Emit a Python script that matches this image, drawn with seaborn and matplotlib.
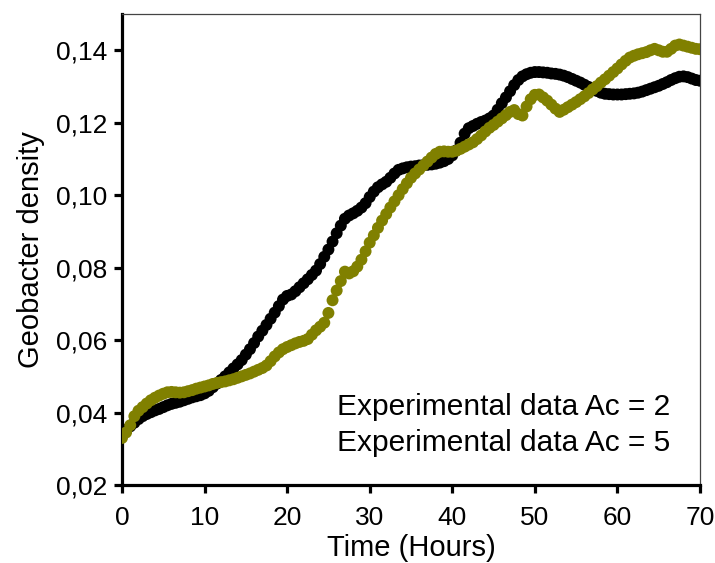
import numpy as np
import pandas as pd
import matplotlib
matplotlib.use("Agg")
import matplotlib.pyplot as plt
import seaborn as sns
from matplotlib.lines import Line2D
from matplotlib.ticker import FuncFormatter

# ---- data ----
time_hours = np.arange(0, 70.5, 0.5)

density_ac2 = [
    0.0340, 0.0353, 0.0362, 0.0372, 0.0382, 0.0390, 0.0396, 0.0401, 0.0406, 0.0410,
    0.0415, 0.0420, 0.0424, 0.0427, 0.0430, 0.0434, 0.0438, 0.0442, 0.0445, 0.0448,
    0.0453, 0.0460, 0.0470, 0.0480, 0.0490, 0.0500, 0.0511, 0.0522, 0.0533, 0.0545,
    0.0560, 0.0575, 0.0592, 0.0610, 0.0626, 0.0642, 0.0659, 0.0676, 0.0694, 0.0712,
    0.0722, 0.0726, 0.0735, 0.0746, 0.0757, 0.0768, 0.0780, 0.0792, 0.0810, 0.0830,
    0.0850, 0.0872, 0.0895, 0.0916, 0.0935, 0.0944, 0.0950, 0.0957, 0.0966, 0.0978,
    0.0995, 0.1010, 0.1022, 0.1030, 0.1037, 0.1048, 0.1060, 0.1070, 0.1074, 0.1077,
    0.1079, 0.1080, 0.1082, 0.1083, 0.1084, 0.1085, 0.1087, 0.1090, 0.1094, 0.1100,
    0.1110, 0.1124, 0.1145, 0.1170, 0.1185, 0.1191, 0.1197, 0.1202, 0.1206, 0.1212,
    0.1220, 0.1236, 0.1254, 0.1270, 0.1287, 0.1304, 0.1318, 0.1328, 0.1334, 0.1338,
    0.1340, 0.1340, 0.1339, 0.1338, 0.1336, 0.1335, 0.1333, 0.1330, 0.1326, 0.1321,
    0.1316, 0.1311, 0.1305, 0.1299, 0.1293, 0.1288, 0.1283, 0.1280, 0.1279, 0.1278,
    0.1278, 0.1278, 0.1279, 0.1280, 0.1281, 0.1283, 0.1286, 0.1290, 0.1294, 0.1298,
    0.1302, 0.1307, 0.1312, 0.1318, 0.1323, 0.1327, 0.1328, 0.1326, 0.1322, 0.1318,
    0.1316,
]

density_ac5 = [
    0.0330, 0.0345, 0.0365, 0.0390, 0.0405, 0.0415, 0.0425, 0.0434, 0.0441, 0.0447,
    0.0452, 0.0456, 0.0457, 0.0456, 0.0455, 0.0456, 0.0459, 0.0462, 0.0466, 0.0469,
    0.0472, 0.0475, 0.0479, 0.0482, 0.0484, 0.0486, 0.0489, 0.0492, 0.0496, 0.0500,
    0.0504, 0.0508, 0.0513, 0.0518, 0.0523, 0.0530, 0.0542, 0.0555, 0.0566, 0.0575,
    0.0581, 0.0586, 0.0591, 0.0595, 0.0598, 0.0603, 0.0615, 0.0627, 0.0637, 0.0648,
    0.0675, 0.0710, 0.0737, 0.0763, 0.0789, 0.0784, 0.0790, 0.0803, 0.0822, 0.0845,
    0.0869, 0.0889, 0.0910, 0.0930, 0.0948, 0.0966, 0.0983, 0.1000, 0.1017, 0.1033,
    0.1048, 0.1060, 0.1071, 0.1082, 0.1093, 0.1104, 0.1114, 0.1120, 0.1121, 0.1120,
    0.1120, 0.1123, 0.1128, 0.1134, 0.1140, 0.1146, 0.1155, 0.1165, 0.1176, 0.1186,
    0.1194, 0.1203, 0.1212, 0.1221, 0.1230, 0.1235, 0.1224, 0.1220, 0.1245, 0.1265,
    0.1277, 0.1278, 0.1270, 0.1261, 0.1250, 0.1239, 0.1230, 0.1236, 0.1243, 0.1250,
    0.1257, 0.1265, 0.1273, 0.1282, 0.1292, 0.1301, 0.1311, 0.1320, 0.1330, 0.1340,
    0.1350, 0.1361, 0.1371, 0.1380, 0.1385, 0.1389, 0.1392, 0.1395, 0.1400, 0.1404,
    0.1400, 0.1396, 0.1396, 0.1404, 0.1413, 0.1416, 0.1413, 0.1410, 0.1407, 0.1404,
    0.1403,
]

series_labels = ["Experimental data Ac = 2", "Experimental data Ac = 5"]
x_ticks = [0, 10, 20, 30, 40, 50, 60, 70]
y_ticks = [0.02, 0.04, 0.06, 0.08, 0.10, 0.12, 0.14]

df = pd.DataFrame({
    "time": np.concatenate([time_hours, time_hours]),
    "density": density_ac2 + density_ac5,
    "series": [series_labels[0]] * len(density_ac2) + [series_labels[1]] * len(density_ac5),
})

# ---- style ----
sns.set_style("white")
plt.rcParams["font.family"] = ["Liberation Sans", "DejaVu Sans"]
plt.rcParams["text.color"] = "black"
plt.rcParams["axes.labelcolor"] = "black"

fig = plt.figure(figsize=(7.15, 5.63), dpi=100)
ax = fig.add_axes([0.1706, 0.1385, 0.8084, 0.8365])

colors = {series_labels[0]: "#000000", series_labels[1]: "#808000"}
sns.scatterplot(data=df, x="time", y="density", hue="series", palette=colors,
                s=74, linewidth=0, legend=False, ax=ax, zorder=3)

ax.set_xlim(0, 70)
ax.set_ylim(0.02, 0.15)
ax.set_xticks(x_ticks)
ax.set_yticks(y_ticks)
ax.yaxis.set_major_formatter(FuncFormatter(lambda v, p: f"{v:.2f}".replace(".", ",")))

for side in ["left", "bottom"]:
    ax.spines[side].set_color("black")
    ax.spines[side].set_linewidth(2.3)
for side in ["top", "right"]:
    ax.spines[side].set_color("#444444")
    ax.spines[side].set_linewidth(0.9)

ax.tick_params(axis="both", which="major", direction="out", length=6, width=2.3,
               color="black", labelsize=19, labelcolor="black",
               bottom=True, left=True)
ax.tick_params(axis="x", pad=9)
ax.tick_params(axis="y", pad=4.5)

ax.set_xlabel("Time (Hours)", fontsize=21, labelpad=3, color="black")
ax.set_ylabel("Geobacter density", fontsize=21, labelpad=8, color="black")

handles = [Line2D([], [], linestyle="none", marker=None) for _ in series_labels]
ax.legend(handles, series_labels, loc="lower right", frameon=False, fontsize=21.5,
          handlelength=0, handletextpad=0, borderaxespad=0,
          bbox_to_anchor=(0.969, 0.035), labelspacing=0.25, labelcolor="black")

fig.savefig("out.png", dpi=100)
